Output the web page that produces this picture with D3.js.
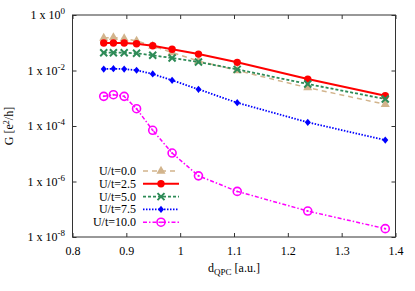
<!DOCTYPE html>
<html>
<head>
<meta charset="utf-8">
<script src="https://cdn.jsdelivr.net/npm/d3@7"></script>
<style>
  body { margin: 0; background: #fff; }
  svg text { font-family: "Liberation Serif", "DejaVu Serif", serif; font-size: 12px; fill: #000; }
</style>
</head>
<body>
<div id="chart"></div>
<script>
// d_QPC positions (same for every series)
const dqpc = [0.858, 0.876, 0.896, 0.919, 0.949, 0.985, 1.034, 1.106, 1.237, 1.381];

// conductance G [e^2/h]
const gU00 = [0.148, 0.155, 0.142, 0.116, 0.076, 0.0445, 0.022, 0.0100, 0.0024, 0.000605];
const gU25 = [0.098, 0.098, 0.098, 0.092, 0.078, 0.058, 0.039, 0.0197, 0.0049, 0.00124];
const gU50 = [0.0438, 0.0438, 0.0438, 0.0417, 0.0353, 0.0282, 0.0202, 0.0110, 0.00326, 0.00094];
const gU75 = [0.0113, 0.0116, 0.0113, 0.0102, 0.0075, 0.00443, 0.0021, 0.00069, 0.000136, 3.1e-5];
const gU100 = [1.17e-3, 1.34e-3, 1.17e-3, 4.2e-4, 7.0e-5, 1.06e-5, 1.6e-6, 4.4e-7, 8.6e-8, 2.0e-8];

const xTicks = [0.8, 0.9, 1.0, 1.1, 1.2, 1.3, 1.4];
const yTickExps = [0, -2, -4, -6, -8];
const legendLabels = ['U/t=0.0', 'U/t=2.5', 'U/t=5.0', 'U/t=7.5', 'U/t=10.0'];

const series = [
    { name: legendLabels[0], values: gU00, color: '#d2b48c', dash: '5,4', width: 1.5, marker: 'triangle' },
    { name: legendLabels[1], values: gU25, color: '#ff0000', dash: null, width: 2, marker: 'circle' },
    { name: legendLabels[2], values: gU50, color: '#2e8b57', dash: '3,2', width: 1.8, marker: 'cross' },
    { name: legendLabels[3], values: gU75, color: '#0000ff', dash: '1.5,1.5', width: 1.8, marker: 'diamond' },
    { name: legendLabels[4], values: gU100, color: '#ff00ff', dash: '4,2,1.5,2', width: 1.5, marker: 'ring' }
];

const width = 415;
const height = 291;
const margin = { top: 15, right: 19.5, bottom: 54, left: 72.5 };

const svg = d3.select('#chart').append('svg')
    .attr('width', width)
    .attr('height', height);

const x = d3.scaleLinear().domain([0.8, 1.4]).range([margin.left, width - margin.right]);
const y = d3.scaleLog().domain([1e-8, 1]).range([height - margin.bottom, margin.top]);

// frame with inward ticks on all four sides
const tickLen = 4;
const axes = svg.append('g');
axes.append('g')
    .attr('transform', `translate(0,${height - margin.bottom})`)
    .call(d3.axisBottom(x).tickValues(xTicks).tickSizeInner(-tickLen).tickSizeOuter(0).tickPadding(9)
        .tickFormat(d => d === 1 ? '1' : d3.format('.1f')(d)));
axes.append('g')
    .attr('transform', `translate(0,${margin.top})`)
    .call(d3.axisTop(x).tickValues(xTicks).tickSizeInner(-tickLen).tickSizeOuter(0).tickFormat(''));
axes.append('g')
    .attr('transform', `translate(${margin.left},0)`)
    .call(d3.axisLeft(y).tickValues(yTickExps.map(e => Math.pow(10, e))).tickSizeInner(-tickLen).tickSizeOuter(0).tickFormat(''));
axes.append('g')
    .attr('transform', `translate(${width - margin.right},0)`)
    .call(d3.axisRight(y).tickValues(yTickExps.map(e => Math.pow(10, e))).tickSizeInner(-tickLen).tickSizeOuter(0).tickFormat(''));
axes.selectAll('.domain').remove();
axes.selectAll('g').attr('font-family', null).attr('font-size', null);
axes.selectAll('line').attr('stroke', '#333');
axes.selectAll('text').attr('fill', '#000');

svg.append('rect')
    .attr('x', margin.left).attr('y', margin.top)
    .attr('width', width - margin.left - margin.right)
    .attr('height', height - margin.top - margin.bottom)
    .attr('fill', 'none').attr('stroke', '#333').attr('stroke-width', 1);

// y tick labels "1 x 10^n"
yTickExps.forEach(e => {
    const t = svg.append('text')
        .attr('x', 65)
        .attr('y', y(Math.pow(10, e)) + 4)
        .attr('text-anchor', 'end');
    t.append('tspan').text('1 x 10');
    t.append('tspan').attr('dy', -5).style('font-size', '9px').text(e);
});

// axis titles
const yTitle = svg.append('text')
    .attr('transform', `translate(13,${(margin.top + height - margin.bottom) / 2}) rotate(-90)`)
    .attr('text-anchor', 'middle');
yTitle.append('tspan').text('G [e');
yTitle.append('tspan').attr('dy', -4).style('font-size', '8px').text('2');
yTitle.append('tspan').attr('dy', 4).text('/h]');

const xTitle = svg.append('text')
    .attr('x', (margin.left + width - margin.right) / 2)
    .attr('y', 272)
    .attr('text-anchor', 'middle');
xTitle.append('tspan').text('d');
xTitle.append('tspan').attr('dy', 3).style('font-size', '9px').text('QPC');
xTitle.append('tspan').attr('dy', -3).text(' [a.u.]');

// marker drawing
const drawMarker = (g, type, color) => {
    if (type === 'triangle') {
        g.append('path').attr('d', d3.symbol(d3.symbolTriangle, 36)()).attr('fill', color);
    } else if (type === 'circle') {
        g.append('circle').attr('r', 3.7).attr('fill', color);
    } else if (type === 'cross') {
        g.append('path').attr('d', 'M-3.5,-3.5L3.5,3.5M-3.5,3.5L3.5,-3.5M-2,0L2,0')
            .attr('stroke', color).attr('stroke-width', 2).attr('fill', 'none');
    } else if (type === 'diamond') {
        g.append('path').attr('d', 'M0,-3.6L3,0L0,3.6L-3,0Z').attr('fill', color);
    } else if (type === 'ring') {
        g.append('circle').attr('r', 4).attr('fill', 'none').attr('stroke', color).attr('stroke-width', 1.6);
        g.append('circle').attr('r', 1).attr('fill', color);
    }
};

const line = d3.line().x(d => x(d[0])).y(d => y(d[1]));

const plot = svg.append('g');
series.forEach(s => {
    const pts = dqpc.map((d, i) => [d, s.values[i]]);
    plot.append('path')
        .datum(pts)
        .attr('d', line)
        .attr('fill', 'none')
        .attr('stroke', s.color)
        .attr('stroke-width', s.width)
        .attr('stroke-dasharray', s.dash);
    pts.forEach(p => {
        drawMarker(plot.append('g').attr('transform', `translate(${x(p[0])},${y(p[1])})`), s.marker, s.color);
    });
});

// legend
const legend = svg.append('g');
series.forEach((s, i) => {
    const ly = 171 + i * 12.8;
    legend.append('text')
        .attr('x', 136).attr('y', ly + 4)
        .attr('text-anchor', 'end')
        .text(s.name);
    legend.append('line')
        .attr('x1', 143).attr('x2', 179)
        .attr('y1', ly).attr('y2', ly)
        .attr('stroke', s.color)
        .attr('stroke-width', s.width)
        .attr('stroke-dasharray', s.dash);
    drawMarker(legend.append('g').attr('transform', `translate(161,${ly})`), s.marker, s.color);
});
</script>
</body>
</html>
